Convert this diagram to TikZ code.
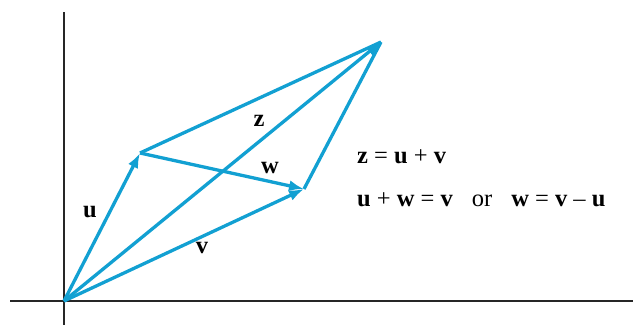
\documentclass[tikz,border=0pt]{standalone}
\usepackage{fontspec}
\setmainfont{Liberation Serif}
\usetikzlibrary{arrows.meta}
\definecolor{vecblue}{RGB}{18,160,210}

\begin{document}
\begin{tikzpicture}[x=1pt, y=-1pt, font=\fontsize{24.5}{28}\selectfont]
\tikzstyle{axis}=[line width=1.6pt, black!85]
\tikzstyle{vec}=[line width=3.3pt, vecblue, -{Latex[length=15pt, width=11pt]}]
\tikzstyle{side}=[line width=3.3pt, vecblue]
\tikzstyle{lbl}=[inner sep=0pt]
\useasboundingbox (0,0) rectangle (633,325);
% axes
\coordinate (ytop) at (64,12); \coordinate (ybot) at (64,325);
\coordinate (xl) at (10,301); \coordinate (xr) at (633,301);
\draw[axis] (ytop) -- (ybot);
\draw[axis] (xl) -- (xr);
% vectors
\coordinate (O) at (64,301);
\coordinate (U) at (140,153);
\coordinate (V) at (304,189);
\coordinate (Z) at (381,42);
\draw[side] (U) -- (Z);
\draw[side] (V) -- (Z);
\draw[vec] (O) -- (U);
\draw[vec] (O) -- (V);
\draw[vec] (O) -- (Z);
\draw[vec] (U) -- (V);
% labels
\node[lbl] (lu) at (90,212) {\textbf{u}};
\node[lbl] (lv) at (202,248) {\textbf{v}};
\node[lbl] (lw) at (270,168) {\textbf{w}};
\node[lbl] (lz) at (259,121) {\textbf{z}};
\node[lbl, anchor=west] (eq1) at (357,157) {\textbf{z} = \textbf{u} + \textbf{v}};
\node[lbl, anchor=west] (eq2) at (357,200) {\textbf{u} + \textbf{w} = \textbf{v}\hspace{19pt}or\hspace{19pt}\textbf{w} = \textbf{v} – \textbf{u}};
\end{tikzpicture}
\end{document}
